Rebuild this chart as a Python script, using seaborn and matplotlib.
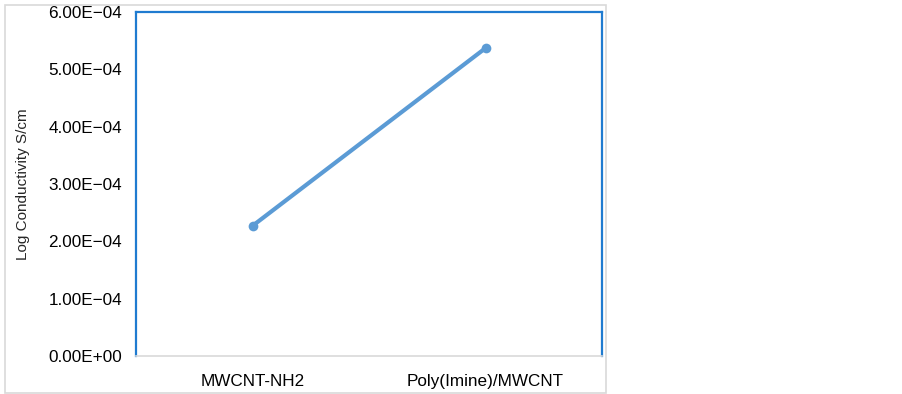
import pandas as pd
import seaborn as sns
import matplotlib.pyplot as plt
from matplotlib.patches import Rectangle
from matplotlib.ticker import FuncFormatter, MultipleLocator

samples = ['MWCNT-NH2', 'Poly(Imine)/MWCNT']
conductivity = [2.27e-4, 5.37e-4]

df = pd.DataFrame({'Sample': samples, 'Conductivity': conductivity})

sns.set_style('white')
plt.rcParams['font.family'] = ['Liberation Sans', 'DejaVu Sans']

fig = plt.figure(figsize=(9.03, 3.94), dpi=100)
ax = fig.add_axes([136 / 903, 1 - 356 / 394, 466 / 903, 344 / 394])

sns.lineplot(data=df, x='Sample', y='Conductivity', ax=ax, color='#5b9bd5',
             linewidth=3, marker='o', markersize=7, markeredgewidth=0)

ax.set_xlim(-0.5, 1.5)
ax.set_ylim(0, 6e-4)
ax.yaxis.set_major_locator(MultipleLocator(1e-4))
ax.yaxis.set_major_formatter(FuncFormatter(lambda v, p: f'{v:.2E}'.replace('-', '\u2212')))
ax.tick_params(axis='both', length=0, labelsize=12.3, labelcolor='black')
ax.tick_params(axis='y', pad=10)
ax.tick_params(axis='x', pad=13)
ax.set_xlabel('')
ax.set_ylabel('Log Conductivity S/cm', fontsize=11, labelpad=13)

for side in ['left', 'top', 'right']:
    ax.spines[side].set_color('#1f7bd0')
    ax.spines[side].set_linewidth(1.6)
ax.spines['bottom'].set_color('#d9d9d9')
ax.spines['bottom'].set_linewidth(1.2)

fig.patches.append(Rectangle((5 / 903, 1 - 393 / 394), 601 / 903, 388 / 394,
                             transform=fig.transFigure, fill=False,
                             edgecolor='#d9d9d9', linewidth=1.2))

fig.savefig('out.png', dpi=100)
